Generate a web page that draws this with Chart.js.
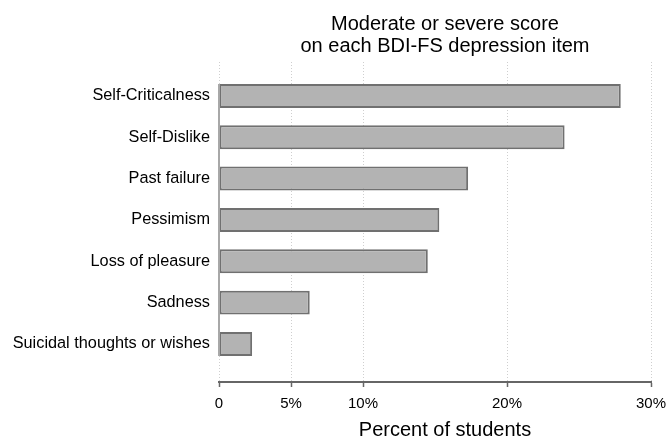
<!DOCTYPE html>
<html>
<head>
<meta charset="utf-8">
<script src="https://cdn.jsdelivr.net/npm/chart.js@4.4.1/dist/chart.umd.min.js"></script>
<style>
    html, body { margin: 0; padding: 0; background: #fff; }
    #wrap { width: 668px; height: 437px; }
</style>
</head>
<body>
<div id="wrap"><canvas id="barChartCanvas" width="668" height="437"></canvas></div>
<script>
// data
let items = ['Self-Criticalness', 'Self-Dislike', 'Past failure', 'Pessimism', 'Loss of pleasure', 'Sadness', 'Suicidal thoughts or wishes'];
let percents = [27.9, 24.0, 17.3, 15.3, 14.5, 6.3, 2.3];
let xTicks = [0, 5, 10, 20, 30];
let titleLines = ['Moderate or severe score', 'on each BDI-FS depression item'];
let xTitle = 'Percent of students';

let fontFamily = '"Liberation Sans", Arial, Helvetica, sans-serif';

// title, axis title and the short y axis line (Stata style)
let extrasPlugin = {
    id: 'extras',
    afterDraw: function (chart) {
        let ctx = chart.ctx;
        let area = chart.chartArea;
        let xs = chart.scales.x;
        let bars = chart.getDatasetMeta(0).data;
        let midX = (area.left + area.right) / 2 + 10;

        ctx.save();
        ctx.fillStyle = '#000';
        ctx.textAlign = 'center';
        ctx.textBaseline = 'alphabetic';
        ctx.font = '20px ' + fontFamily;
        ctx.fillText(titleLines[0], midX, 30);
        ctx.fillText(titleLines[1], midX, 52);
        ctx.fillText(xTitle, midX, 436);

        // y axis line spans from first bar top to last bar bottom
        let first = bars[0], last = bars[bars.length - 1];
        let x0 = xs.getPixelForValue(0);
        ctx.strokeStyle = '#a8a8a8';
        ctx.lineWidth = 2;
        ctx.beginPath();
        ctx.moveTo(x0, first.y - first.height / 2);
        ctx.lineTo(x0, last.y + last.height / 2);
        ctx.stroke();
        ctx.restore();
    }
};

let barChartDraw = function () {
    let ctx = document.getElementById('barChartCanvas').getContext('2d');

    window.barChart = new Chart(ctx, {
        type: 'bar',
        data: {
            datasets: [{
                data: percents.map(function (v, i) { return { x: v, y: i }; }),
                backgroundColor: '#b3b3b3',
                borderColor: '#707070',
                borderWidth: 2,
                borderSkipped: false,
                categoryPercentage: 1,
                barPercentage: 0.58
            }]
        },
        options: {
            responsive: false,
            animation: false,
            indexAxis: 'y',
            layout: { padding: { top: 62, right: 17, left: 0, bottom: 0 } },
            plugins: {
                legend: { display: false },
                tooltip: { enabled: false },
                title: { display: false }
            },
            scales: {
                x: {
                    type: 'linear',
                    min: 0,
                    max: 30,
                    afterFit: function (s) {
                        s.height = 55;
                        s.paddingRight = 0;
                    },
                    afterBuildTicks: function (s) {
                        s.ticks = xTicks.map(function (v) { return { value: v }; });
                    },
                    ticks: {
                        color: '#000',
                        padding: 8,
                        maxRotation: 0,
                        font: { family: fontFamily, size: 15 },
                        callback: function (v) { return v === 0 ? '0' : v + '%'; }
                    },
                    grid: {
                        color: '#cfcfcf',
                        lineWidth: 1,
                        tickColor: '#666',
                        tickLength: 5,
                        tickWidth: 1.5
                    },
                    border: { display: true, color: '#666', width: 2, dash: [1, 2] }
                },
                y: {
                    type: 'linear',
                    reverse: true,
                    offset: false,
                    min: -0.82,
                    max: 6.92,
                    afterFit: function (s) { s.width = 219; },
                    afterBuildTicks: function (s) {
                        s.ticks = items.map(function (c, i) { return { value: i }; });
                    },
                    ticks: {
                        color: '#000',
                        padding: 9,
                        font: { family: fontFamily, size: 16.3 },
                        callback: function (v) { return items[v]; }
                    },
                    grid: { display: false, drawTicks: false },
                    border: { display: false }
                }
            }
        },
        plugins: [extrasPlugin]
    });
};

window.onload = function () {
    barChartDraw();
}
</script>
</body>
</html>
